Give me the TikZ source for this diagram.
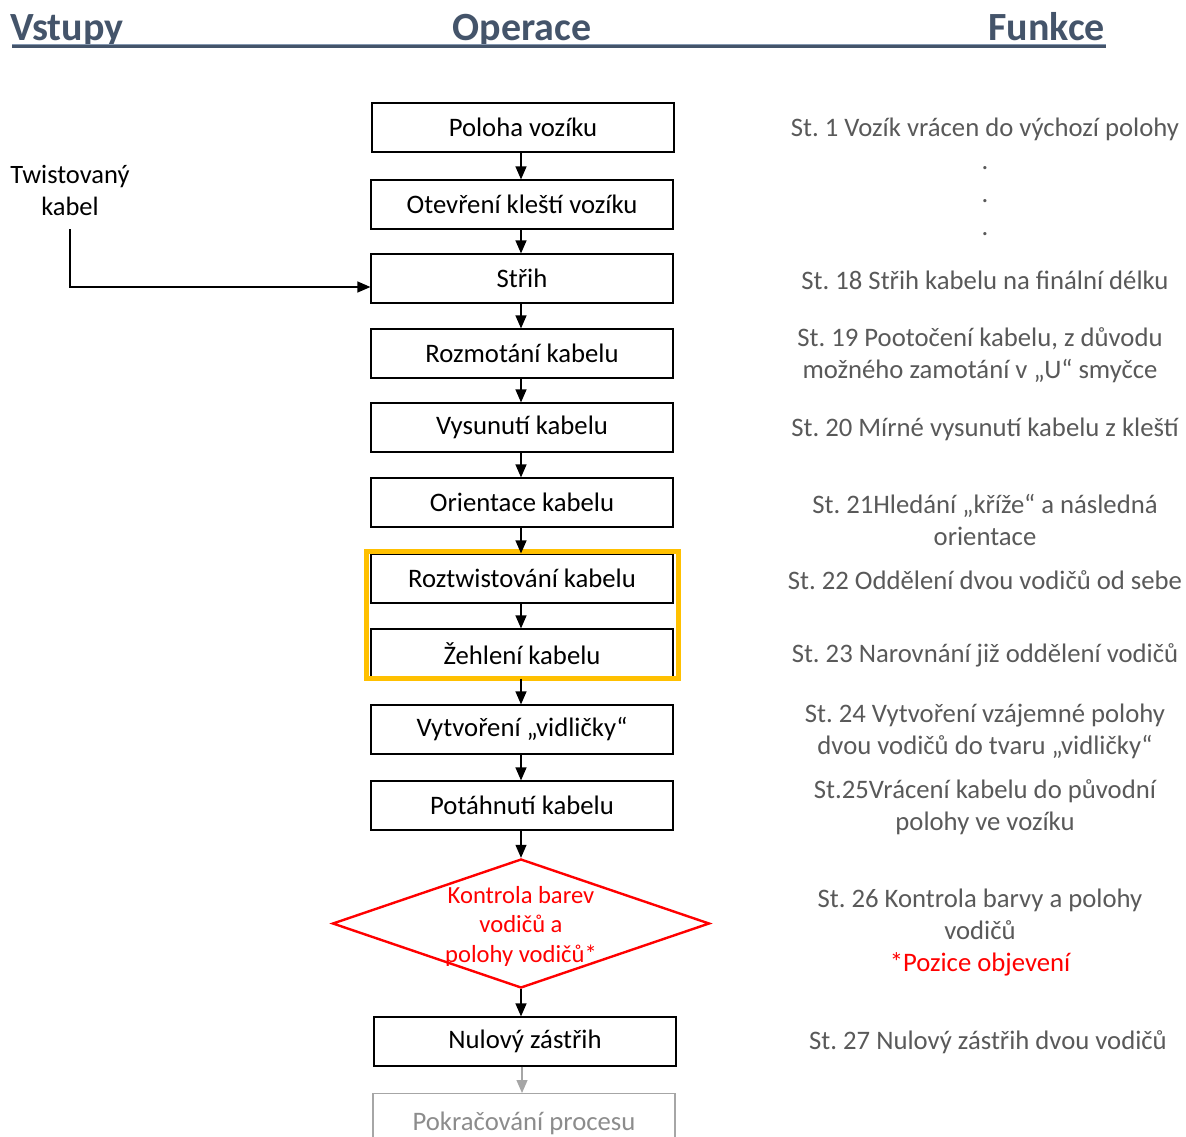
\documentclass[tikz,border=0pt]{standalone}
\usepackage{fontspec}
\setmainfont{Carlito}
\usetikzlibrary{arrows.meta,shapes.geometric}
\frenchspacing
\definecolor{headblue}{HTML}{44546A}
\definecolor{headlight}{HTML}{8497B0}
\definecolor{funcgray}{HTML}{595959}
\definecolor{hiyellow}{HTML}{FFC000}
\definecolor{redtxt}{HTML}{FF0000}
\definecolor{contgray}{HTML}{8C8C8C}
\definecolor{contline}{HTML}{A6A6A6}
\tikzset{
  stepbox/.style={draw=black, line width=1.2pt, minimum width=302pt, minimum height=49pt,
    inner sep=0pt, font=\fontsize{26.7}{32}\selectfont, text=black},
  contbox/.style={stepbox, draw=contline, text=contgray},
  arr/.style={line width=1.2pt, -{Triangle[length=13pt,width=11pt]}},
  graystyle/.style={line width=1.2pt, draw=contline, -{Triangle[length=13pt,width=11pt,fill=contline]}},
  func/.style={align=center, text=funcgray, inner sep=0pt, font=\fontsize{26.7}{32}\selectfont},
  head/.style={text=headblue, inner sep=0pt, font=\fontsize{40}{44}\selectfont\bfseries},
  frame/.style={draw=hiyellow, line width=4.5pt},
}
\begin{document}
\begin{tikzpicture}[x=1pt, y=-1pt]
\useasboundingbox (0,0) rectangle (1186,1137);

% column headings
\node[head, anchor=base west] (hin) at (10,41) {Vstupy};
\node[head, anchor=base] (hop) at (522,41) {Operace};
\node[head, anchor=base east] (hfn) at (1105,41) {Funkce};
\draw[headlight, line width=1pt] (12,44.5) -- (1106,44.5);
\draw[headblue, line width=3pt] (12,46.5) -- (1106,46.5);

% process steps
\node[stepbox] (b1) at (523,127.5) {Poloha vozíku};
\node[stepbox] (b2) at (522,204.5) {Otevření kleští vozíku};
\node[stepbox] (b3) at (522,278.5) {Střih};
\node[stepbox] (b4) at (522,353.5) {Rozmotání kabelu};
\node[stepbox] (b5) at (522,427.5) {Vysunutí kabelu};
\node[stepbox] (b6) at (522,502.5) {Orientace kabelu};
\node[stepbox] (b7) at (522,578.5) {Roztwistování kabelu};
\node[stepbox] (b8) at (522,653.5) {Žehlení kabelu};
\node[stepbox] (b9) at (522,729.5) {Vytvoření „vidličky“};
\node[stepbox] (b10) at (522,805.5) {Potáhnutí kabelu};
\node[draw=redtxt, line width=2.4pt, shape=diamond, minimum width=377pt, minimum height=129pt,
      inner sep=0pt] (dia) at (521,923.5) {};
\node[align=center, text=redtxt, inner sep=0pt, font=\fontsize{24.6}{29.5}\selectfont] (diat)
      at (521,926) {Kontrola barev\\vodičů a\\polohy vodičů*};
\node[stepbox] (b11) at (525,1041.5) {Nulový zástřih};
\node[contbox, minimum height=60pt, anchor=north] (b12) at (524,1093) {Pokračování procesu};

% highlighted pair
\draw[frame] ([xshift=-4pt,yshift=2pt]b7.north west) rectangle ([xshift=5pt]b8.south east);

% flow connectors
\foreach \a/\b in {b1/b2,b2/b3,b3/b4,b4/b5,b5/b6,b6/b7,b7/b8,b8/b9,b9/b10}
  \draw[arr] (\a.south -| 521,0) -- (\b.north -| 521,0);
\draw[arr] (b10.south -| 521,0) -- (dia.north);
\draw[arr] (dia.south) -- (b11.north -| 521,0);
\draw[graystyle] (b11.south -| 522,0) -- (b12.north -| 522,0);

% input
\node[align=center, inner sep=0pt, font=\fontsize{26.5}{32}\selectfont] (twist) at (70,190) {Twistovaný\\kabel};
\coordinate (tstart) at (70,229);
\coordinate (tcorner) at (70,287);
\draw[arr] (tstart) -- (tcorner) -- (tcorner -| b3.west);

% function descriptions
\node[func] (f1) at (985,129) {St. 1 Vozík vrácen do výchozí polohy};
\node[func] (d1) at (985,168) {.};
\node[func] (d2) at (985,201) {.};
\node[func] (d3) at (985,234) {.};
\node[func] (f18) at (985,280) {St. 18 Střih kabelu na finální délku};
\node[func] (f19) at (980,355) {St. 19 Pootočení kabelu, z důvodu\\možného zamotání v „U“ smyčce};
\node[func] (f20) at (985,429) {St. 20 Mírné vysunutí kabelu z kleští};
\node[func] (f21) at (985,520) {St. 21Hledání „kříže“ a následná\\orientace};
\node[func] (f22) at (985,580) {St. 22 Oddělení dvou vodičů od sebe};
\node[func] (f23) at (985,655) {St. 23 Narovnání již oddělení vodičů};
\node[func] (f24) at (985,731) {St. 24 Vytvoření vzájemné polohy\\dvou vodičů do tvaru „vidličky“};
\node[func] (f25) at (985,807) {St.25Vrácení kabelu do původní\\polohy ve vozíku};
\node[func] (f26) at (980,933) {St. 26 Kontrola barvy a polohy\\vodičů\\\textcolor{redtxt}{*Pozice objevení}};
\node[func] (f27) at (988,1042) {St. 27 Nulový zástřih dvou vodičů};
\end{tikzpicture}
\end{document}
